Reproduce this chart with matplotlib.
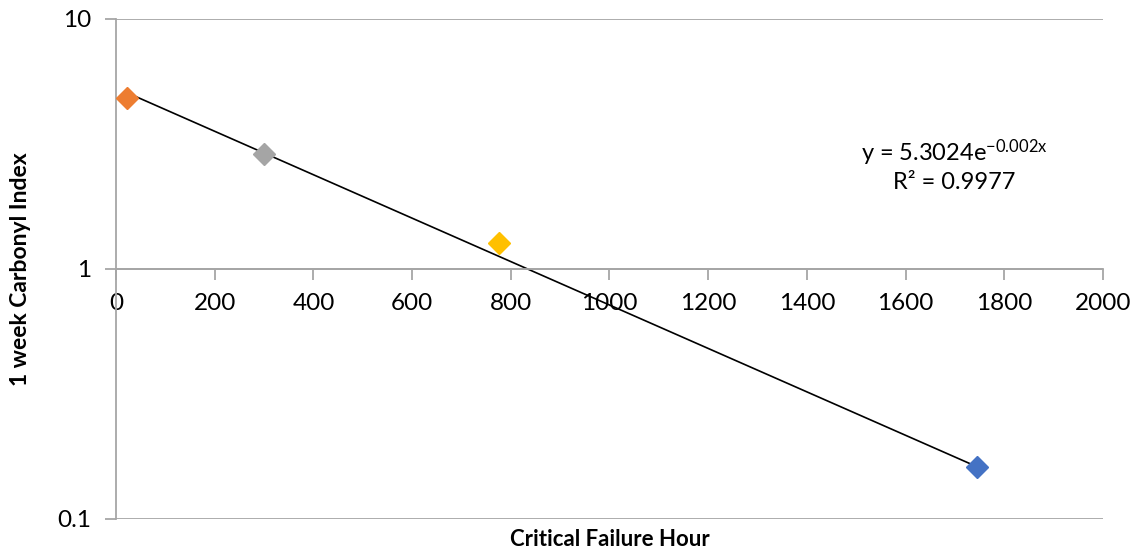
import numpy as np
import matplotlib
matplotlib.use("Agg")
import matplotlib.pyplot as plt

plt.rcParams["font.family"] = ["Lato", "DejaVu Sans"]
plt.rcParams["mathtext.fontset"] = "custom"
plt.rcParams["mathtext.rm"] = "Lato"
plt.rcParams["mathtext.it"] = "Lato"

# critical failure hour vs 1 week carbonyl index, one sample per colour
hours = [22, 300, 776, 1745]
carbonyl = [4.83, 2.88, 1.27, 0.161]
colors = ["#ED7D31", "#A5A5A5", "#FFC000", "#4472C4"]

# exponential trendline y = a * exp(b * x)
fit_a = 5.3024
fit_b = -0.002
fit_r2 = 0.9977

grid_c = "#A6A6A6"

fig = plt.figure(figsize=(11.33, 5.52), dpi=100)
ax = fig.add_axes([0.1024, 0.0598, 0.8711, 0.9058])

xs = np.linspace(min(hours), max(hours), 200)
ax.plot(xs, fit_a * np.exp(fit_b * xs), color="black", lw=1.2, zorder=2)

for h, c, col in zip(hours, carbonyl, colors):
    ax.plot(h, c, marker="D", ms=11, color=col, mec=col, ls="none", zorder=3)

ax.set_yscale("log")
ax.set_ylim(0.1, 10)
ax.set_xlim(0, 2000)
ax.set_xticks(range(0, 2001, 200))
ax.set_yticks([0.1, 1, 10])
ax.set_yticklabels(["0.1", "1", "10"])
ax.yaxis.set_minor_locator(matplotlib.ticker.NullLocator())

ax.yaxis.grid(True, color=grid_c, lw=1.3)
ax.set_axisbelow(True)
for side in ("top", "right"):
    ax.spines[side].set_visible(False)
ax.spines["left"].set_color(grid_c)
ax.spines["left"].set_linewidth(1.3)
ax.spines["bottom"].set_position(("data", 1))
ax.spines["bottom"].set_color(grid_c)
ax.spines["bottom"].set_linewidth(1.3)

ax.tick_params(axis="x", colors=grid_c, labelcolor="black", labelsize=17.5,
               length=8, width=1.3, pad=9)
ax.tick_params(axis="y", colors=grid_c, labelcolor="black", labelsize=17.5,
               length=8, width=1.3, pad=10)

ax.set_xlabel("Critical Failure Hour", fontsize=16, fontweight="bold",
              va="center")
ax.xaxis.set_label_coords(0.5, -0.042)
ax.set_ylabel("1 week Carbonyl Index", fontsize=16.5, fontweight="bold",
              va="center")
ax.yaxis.set_label_coords(-0.097, 0.5)

ax.text(0.849, 0.732, r"y = 5.3024e$^{-0.002x}$", transform=ax.transAxes,
        ha="center", va="center", fontsize=17)
ax.text(0.849, 0.672, f"R² = {fit_r2}", transform=ax.transAxes,
        ha="center", va="center", fontsize=17)

fig.savefig("out.png", dpi=100)
